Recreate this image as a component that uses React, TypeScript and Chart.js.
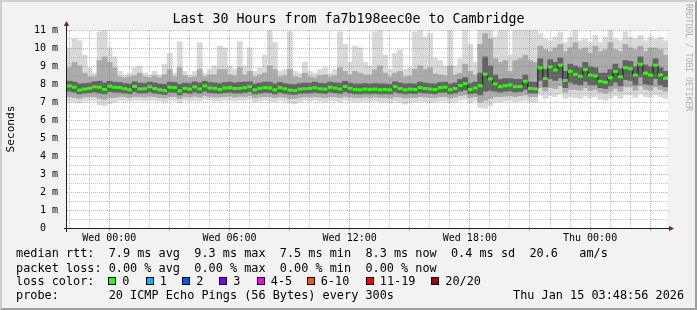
import React, { useEffect, useRef } from 'react';
import { Chart, registerables } from 'chart.js';

Chart.register(...registerables);

// ---------- data ----------
const TITLE = 'Last 30 Hours from fa7b198eec0e to Cambridge';
const START_CLOCK_H = 21.89; // graph start, hours since Tue 00:00 (Tue 21:53)
const SPAN_H = 30;
const BUCKET_H = 0.25; // one bucket = 15 minutes
const TICK_CLOCK_H = [24, 30, 36, 42, 48];
const TICK_LABELS = ['Wed 00:00', 'Wed 06:00', 'Wed 12:00', 'Wed 18:00', 'Thu 00:00'];

// median rtt per bucket (ms)
const MEDIAN_MS = [
  7.89, 7.82, 7.66, 7.72, 7.76, 7.84, 7.82, 7.70, 7.88, 7.82,
  7.80, 7.74, 7.68, 7.86, 7.73, 7.74, 7.84, 7.75, 7.68, 7.64,
  7.82, 7.80, 7.62, 7.76, 7.72, 7.84, 7.73, 7.89, 7.78, 7.76,
  7.70, 7.78, 7.80, 7.75, 7.76, 7.80, 7.85, 7.68, 7.76, 7.80,
  7.78, 7.68, 7.80, 7.73, 7.66, 7.64, 7.72, 7.74, 7.76, 7.80,
  7.74, 7.72, 7.82, 7.78, 7.72, 7.86, 7.76, 7.70, 7.68, 7.72,
  7.70, 7.72, 7.68, 7.70, 7.68, 7.85, 7.75, 7.68, 7.72, 7.70,
  7.80, 7.75, 7.72, 7.70, 7.80, 7.82, 7.68, 7.75, 7.92, 8.02,
  7.70, 7.78, 7.90, 8.55, 8.28, 8.00, 7.85, 7.90, 7.95, 7.85,
  7.86, 8.15, 7.75, 7.73, 8.90, 8.30, 8.95, 8.78, 9.05, 8.20,
  8.70, 8.54, 8.43, 8.80, 8.50, 8.45, 8.15, 8.10, 8.35, 8.70,
  8.40, 8.90, 8.85, 8.50, 9.10, 8.60, 8.50, 9.05, 8.50, 8.32,
];
// slowest ping per bucket (ms)
const MAX_MS = [
  10.0, 10.5, 10.4, 9.6, 8.9, 8.6, 10.9, 11.0, 10.0, 9.5,
  8.7, 8.5, 8.6, 8.9, 9.0, 8.6, 8.5, 8.7, 8.5, 9.1,
  9.7, 8.6, 10.35, 8.7, 8.5, 8.7, 10.3, 8.6, 8.8, 9.0,
  10.1, 10.0, 9.0, 8.8, 10.35, 9.0, 10.0, 8.7, 8.9, 9.6,
  11.2, 10.3, 8.7, 8.8, 10.9, 8.7, 8.6, 9.2, 8.7, 8.6,
  8.8, 8.9, 8.6, 8.8, 10.9, 10.2, 9.2, 10.1, 10.0, 9.2,
  9.0, 10.9, 11.2, 9.6, 8.8, 9.7, 9.9, 8.8, 8.9, 10.9,
  11.2, 10.6, 10.8, 9.45, 9.3, 9.0, 11.2, 9.0, 9.4, 11.2,
  10.2, 9.2, 11.3, 11.3, 11.3, 10.6, 11.2, 11.2, 9.6, 11.2,
  11.2, 11.2, 11.2, 11.2, 10.8, 10.5, 10.4, 10.6, 10.9, 10.3,
  10.6, 11.2, 10.4, 10.5, 10.3, 10.7, 10.3, 10.6, 11.2, 10.5,
  10.4, 10.9, 10.6, 10.5, 10.7, 10.4, 10.6, 10.5, 10.6, 10.4,
];
// upper edge of the middle smoke band (ms)
const UP_MS = [
  8.9, 9.2, 9.0, 8.6, 8.4, 8.4, 9.3, 9.5, 9.2, 8.9,
  8.4, 8.35, 8.4, 8.45, 8.6, 8.4, 8.35, 8.45, 8.35, 8.5,
  8.8, 8.4, 8.9, 8.45, 8.35, 8.4, 8.8, 8.4, 8.5, 8.5,
  8.8, 8.8, 8.5, 8.45, 8.9, 8.5, 8.7, 8.4, 8.5, 8.6,
  9.0, 8.8, 8.4, 8.45, 8.8, 8.4, 8.35, 8.6, 8.4, 8.35,
  8.45, 8.5, 8.4, 8.45, 8.9, 8.7, 8.5, 8.7, 8.6, 8.5,
  8.5, 8.8, 9.0, 8.6, 8.4, 8.6, 8.7, 8.4, 8.45, 8.8,
  9.0, 8.8, 8.9, 8.55, 8.5, 8.45, 9.0, 8.5, 8.6, 9.1,
  8.7, 8.5, 10.2, 10.8, 10.5, 9.4, 9.2, 9.3, 8.7, 9.3,
  9.4, 9.6, 9.3, 9.2, 10.1, 9.9, 9.8, 10.0, 10.2, 9.8,
  10.0, 10.3, 9.9, 10.0, 9.7, 10.1, 9.8, 9.9, 10.3, 9.9,
  9.8, 10.2, 10.0, 9.9, 10.1, 9.8, 10.0, 10.0, 9.9, 9.6,
];
// upper edge of the dark core (ms)
const CORE_HI_MS = [
  8.15, 8.10, 8.00, 8.02, 8.05, 8.12, 8.15, 8.05, 8.15, 8.10,
  8.08, 8.02, 8.00, 8.12, 8.05, 8.02, 8.10, 8.05, 8.00, 7.98,
  8.10, 8.08, 7.98, 8.05, 8.02, 8.12, 8.05, 8.15, 8.08, 8.05,
  8.02, 8.08, 8.10, 8.05, 8.08, 8.10, 8.12, 8.00, 8.05, 8.10,
  8.10, 8.00, 8.08, 8.02, 7.98, 7.96, 8.02, 8.05, 8.05, 8.10,
  8.04, 8.02, 8.10, 8.06, 8.04, 8.15, 8.05, 8.00, 8.00, 8.02,
  8.00, 8.02, 8.00, 8.00, 7.98, 8.12, 8.05, 8.00, 8.02, 8.00,
  8.10, 8.05, 8.02, 8.00, 8.08, 8.10, 8.00, 8.05, 8.25, 8.35,
  8.02, 8.10, 8.60, 9.50, 9.00, 8.50, 8.25, 8.30, 8.30, 8.25,
  8.25, 8.50, 8.10, 8.10, 9.40, 8.80, 9.35, 9.20, 9.45, 8.70,
  9.10, 9.00, 8.90, 9.20, 8.95, 8.90, 8.60, 8.60, 8.80, 9.10,
  8.85, 9.30, 9.25, 8.95, 9.50, 9.05, 8.95, 9.40, 8.90, 8.70,
];
// lower edge of the dark core (ms)
const CORE_LO_MS = [
  7.60, 7.55, 7.45, 7.50, 7.52, 7.56, 7.50, 7.45, 7.58, 7.55,
  7.54, 7.50, 7.46, 7.58, 7.50, 7.50, 7.56, 7.50, 7.46, 7.42,
  7.55, 7.54, 7.40, 7.52, 7.48, 7.56, 7.50, 7.60, 7.52, 7.50,
  7.48, 7.52, 7.54, 7.50, 7.50, 7.54, 7.58, 7.45, 7.50, 7.54,
  7.52, 7.45, 7.54, 7.48, 7.44, 7.42, 7.48, 7.50, 7.50, 7.54,
  7.50, 7.48, 7.55, 7.52, 7.48, 7.58, 7.50, 7.46, 7.45, 7.48,
  7.46, 7.48, 7.45, 7.46, 7.45, 7.56, 7.50, 7.45, 7.48, 7.46,
  7.54, 7.50, 7.48, 7.46, 7.54, 7.55, 7.45, 7.50, 7.60, 7.66,
  7.46, 7.50, 7.40, 7.60, 7.65, 7.60, 7.55, 7.60, 7.62, 7.56,
  7.58, 7.70, 7.50, 7.50, 8.20, 7.85, 8.30, 8.20, 8.35, 7.80,
  8.10, 8.00, 7.95, 8.15, 7.95, 7.95, 7.80, 7.75, 7.90, 8.10,
  7.90, 8.25, 8.20, 7.95, 8.40, 8.00, 7.95, 8.30, 7.95, 7.85,
];
// lower edge of the middle smoke band (ms)
const DN_MS = [
  7.30, 7.25, 7.20, 7.28, 7.30, 7.30, 7.20, 7.15, 7.25, 7.25,
  7.30, 7.30, 7.25, 7.30, 7.30, 7.28, 7.32, 7.30, 7.25, 7.22,
  7.30, 7.30, 7.20, 7.30, 7.28, 7.32, 7.28, 7.35, 7.30, 7.28,
  7.28, 7.30, 7.32, 7.28, 7.30, 7.30, 7.35, 7.25, 7.28, 7.30,
  7.30, 7.25, 7.30, 7.28, 7.20, 7.20, 7.25, 7.30, 7.28, 7.30,
  7.28, 7.25, 7.30, 7.30, 7.25, 7.32, 7.28, 7.25, 7.25, 7.28,
  7.25, 7.28, 7.25, 7.25, 7.22, 7.30, 7.28, 7.22, 7.25, 7.25,
  7.30, 7.28, 7.25, 7.25, 7.30, 7.30, 7.22, 7.28, 7.35, 7.40,
  7.25, 7.30, 7.00, 7.10, 7.20, 7.30, 7.30, 7.32, 7.35, 7.30,
  7.35, 7.40, 7.30, 7.30, 7.80, 7.60, 7.80, 7.75, 7.90, 7.55,
  7.70, 7.70, 7.65, 7.80, 7.65, 7.70, 7.55, 7.50, 7.60, 7.75,
  7.60, 7.85, 7.85, 7.65, 7.90, 7.70, 7.65, 7.85, 7.70, 7.60,
];
// fastest ping per bucket (ms)
const MIN_MS = [
  7.05, 7.00, 6.95, 7.05, 7.10, 7.05, 6.85, 6.80, 6.90, 7.00,
  7.10, 7.10, 7.05, 7.10, 7.10, 7.05, 7.10, 7.10, 7.05, 7.00,
  7.10, 7.08, 6.95, 7.10, 7.05, 7.10, 7.05, 7.15, 7.10, 7.05,
  7.05, 7.10, 7.10, 7.05, 7.10, 7.10, 7.15, 7.00, 7.05, 7.10,
  7.05, 7.00, 7.10, 7.05, 6.95, 6.90, 7.00, 7.10, 7.05, 7.10,
  7.05, 7.00, 7.10, 7.05, 7.00, 7.10, 7.05, 7.00, 7.00, 7.05,
  7.00, 7.05, 7.00, 7.00, 6.95, 7.05, 7.00, 6.90, 7.00, 7.00,
  7.05, 7.00, 6.95, 7.00, 7.05, 7.05, 6.95, 7.00, 7.10, 7.15,
  6.95, 7.05, 6.70, 6.65, 6.80, 7.00, 7.00, 7.05, 7.10, 7.00,
  7.05, 7.10, 7.00, 7.00, 7.40, 7.20, 7.35, 7.30, 7.45, 7.20,
  7.30, 7.25, 7.20, 7.35, 7.25, 7.30, 7.15, 7.10, 7.20, 7.35,
  7.20, 7.40, 7.40, 7.25, 7.45, 7.30, 7.25, 7.40, 7.30, 7.20,
];

const MEDIAN_STATS = ['7.9 ms avg', '9.3 ms max', '7.5 ms min', '8.3 ms now', '0.4 ms sd', '20.6   am/s'];
const LOSS_STATS = ['0.00 % avg', '0.00 % max', '0.00 % min', '0.00 % now'];
const LOSS_LABELS = ['0', '1', '2', '3', '4-5', '6-10', '11-19', '20/20'];
const LOSS_COLORS = ['#26ff00', '#00b8ff', '#0059ff', '#7e00ff', '#ff00ff', '#ff5500', '#ff0000', '#a10000'];
const PROBE_TEXT = '20 ICMP Echo Pings (56 Bytes) every 300s';
const DATE_TEXT = 'Thu Jan 15 03:48:56 2026';
const Y_TITLE = 'Seconds';
const WATERMARK = 'RRDTOOL / TOBI OETIKER';

// ---------- styling ----------
const MONO = "'DejaVu Sans Mono', monospace";
const LOSS_BOX_X = [108, 145.5, 182, 219, 256.5, 306.5, 365.5, 431];

const bucketTimes = MEDIAN_MS.map((_, i) => (i + 0.5) * BUCKET_H);
const band = (lo: number[], hi: number[]) => bucketTimes.map((t, i) => ({ x: t, y: [lo[i], hi[i]] }));
const CONNECTOR_INDEX = 3;

function drawGrid(chart: any) {
  const { ctx, chartArea: a } = chart;
  const xs = chart.scales.x;
  const ys = chart.scales.y;
  ctx.save();
  ctx.lineWidth = 1;
  ctx.setLineDash([1, 1]);
  const minorC = 'rgba(143,143,143,0.5)';
  const majorC = 'rgba(222,79,79,0.5)';
  const hLines: [number, boolean][] = [];
  for (let k = 1; k <= 22; k++) {
    const v = k * 0.5;
    hLines.push([v, k % 2 === 0]);
  }
  for (const pass of [false, true]) {
    ctx.strokeStyle = pass ? majorC : minorC;
    ctx.beginPath();
    for (const [v, major] of hLines) {
      if (major !== pass) continue;
      const py = Math.floor(ys.getPixelForValue(v)) + 0.5;
      ctx.moveTo(a.left, py);
      ctx.lineTo(a.right, py);
    }
    for (let h = Math.ceil(START_CLOCK_H); h <= START_CLOCK_H + SPAN_H; h++) {
      const major = h % 3 === 0;
      if (major !== pass) continue;
      const px = Math.floor(xs.getPixelForValue(h - START_CLOCK_H)) + 0.5;
      ctx.moveTo(px, a.bottom);
      ctx.lineTo(px, a.top);
    }
    ctx.stroke();
  }
  ctx.restore();
}

function drawAxes(chart: any) {
  const { ctx, chartArea: a } = chart;
  const xs = chart.scales.x;
  ctx.save();
  ctx.setLineDash([]);
  // major tick marks under the x axis
  ctx.strokeStyle = 'rgba(222,79,79,0.6)';
  ctx.lineWidth = 1;
  ctx.beginPath();
  for (let h = Math.ceil(START_CLOCK_H); h <= START_CLOCK_H + SPAN_H; h++) {
    if (h % 3 !== 0) continue;
    const px = Math.floor(xs.getPixelForValue(h - START_CLOCK_H)) + 0.5;
    ctx.moveTo(px, a.bottom + 1);
    ctx.lineTo(px, a.bottom + 3);
  }
  ctx.stroke();
  ctx.strokeStyle = '#1f1f1f';
  ctx.beginPath();
  ctx.moveTo(a.left - 3, a.bottom + 0.5);
  ctx.lineTo(a.right + 2, a.bottom + 0.5);
  ctx.moveTo(a.left - 0.5, a.bottom + 4);
  ctx.lineTo(a.left - 0.5, a.top - 4);
  ctx.stroke();
  ctx.fillStyle = '#801f1f';
  ctx.beginPath();
  ctx.moveTo(a.right + 1, a.bottom - 2);
  ctx.lineTo(a.right + 6, a.bottom + 0.5);
  ctx.lineTo(a.right + 1, a.bottom + 3);
  ctx.closePath();
  ctx.fill();
  ctx.beginPath();
  ctx.moveTo(a.left - 3.2, a.top - 4);
  ctx.lineTo(a.left - 0.5, a.top - 9);
  ctx.lineTo(a.left + 2.2, a.top - 4);
  ctx.closePath();
  ctx.fill();
  ctx.restore();
}

const rrdPlugin = {
  id: 'rrdLook',
  beforeDraw(chart: any) {
    const { ctx, chartArea: a } = chart;
    ctx.save();
    ctx.fillStyle = '#ffffff';
    ctx.fillRect(a.left, a.top, a.right - a.left, a.bottom - a.top);
    ctx.restore();
  },
  beforeDatasetDraw(chart: any, args: any) {
    if (args.index === CONNECTOR_INDEX) drawGrid(chart);
  },
  afterDraw(chart: any) {
    drawAxes(chart);
  },
};

const barCommon = {
  type: 'bar' as const,
  borderWidth: 0,
  grouped: false,
  barPercentage: 1,
  categoryPercentage: 1,
  inflateAmount: 0.4,
};

export default function App() {
  const ref = useRef<HTMLCanvasElement>(null);

  useEffect(() => {
    document.body.style.margin = '0';
    const chart = new Chart(ref.current as HTMLCanvasElement, {
      type: 'bar',
      data: {
        datasets: [
          { ...barCommon, label: 'outer', data: band(MIN_MS, MAX_MS), backgroundColor: '#d9d9d9', order: 5 },
          { ...barCommon, label: 'middle', data: band(DN_MS, UP_MS), backgroundColor: '#ababab', order: 4 },
          { ...barCommon, label: 'core', data: band(CORE_LO_MS, CORE_HI_MS), backgroundColor: '#636363', order: 3 },
          {
            type: 'line', label: 'median', order: 2,
            data: bucketTimes.map((t, i) => ({ x: t, y: MEDIAN_MS[i] })),
            stepped: 'middle', borderColor: '#1c1c1c', borderWidth: 1, pointRadius: 0, fill: false,
          },
          {
            type: 'line', label: 'median loss color', order: 1,
            data: bucketTimes.map((t, i) => ({ x: t, y: MEDIAN_MS[i] })),
            showLine: false, pointStyle: 'line', pointRadius: 2.5, pointBorderWidth: 3,
            pointBorderColor: LOSS_COLORS[0], pointBackgroundColor: LOSS_COLORS[0],
          },
        ] as any,
      },
      options: {
        responsive: false,
        animation: false,
        events: [],
        layout: { padding: { top: 30, right: 29, left: 0, bottom: 0 } },
        plugins: { legend: { display: false }, tooltip: { enabled: false }, title: { display: false } },
        scales: {
          x: {
            type: 'linear', min: 0, max: SPAN_H, offset: false,
            grid: { display: false, drawTicks: false },
            border: { display: false },
            afterBuildTicks: (s: any) => { s.ticks = TICK_CLOCK_H.map((h) => ({ value: h - START_CLOCK_H })); },
            afterFit: (s: any) => { s.height = 82; },
            ticks: {
              autoSkip: false, maxRotation: 0, minRotation: 0, padding: 4, color: '#000',
              font: { family: MONO, size: 10 },
              callback: (_v: any, i: number) => TICK_LABELS[i],
            },
          },
          y: {
            type: 'linear', min: 0, max: 11,
            grid: { display: false, drawTicks: false },
            border: { display: false },
            afterFit: (s: any) => { s.width = 67; },
            ticks: {
              stepSize: 1, padding: 9, color: '#000',
              font: { family: MONO, size: 10 },
              callback: (v: any) => (v === 0 ? '0  ' : `${v} m`),
            },
            title: {
              display: true, text: Y_TITLE, color: '#000',
              font: { family: MONO, size: 11.2 },
              padding: { top: 4, bottom: 0 },
            },
          },
        },
      } as any,
      plugins: [rrdPlugin],
    });
    return () => chart.destroy();
  }, []);

  const lineStyle = (top: number): React.CSSProperties => ({
    position: 'absolute', left: 16, top, fontFamily: MONO, fontSize: 11.85, lineHeight: '14px',
    whiteSpace: 'pre', color: '#000',
  });

  return (
    <div style={{ position: 'relative', width: 697, height: 310, background: '#f2f2f2', overflow: 'hidden' }}>
      <canvas ref={ref} width={697} height={310} style={{ position: 'absolute', left: 0, top: 0, display: 'block' }} />
      <div style={{
        position: 'absolute', left: 0, top: 11.4, width: 697, textAlign: 'center', fontFamily: MONO,
        fontSize: 13.3, lineHeight: '16px', whiteSpace: 'pre', color: '#000',
      }}>{TITLE}</div>
      <div style={{
        position: 'absolute', left: 683.5, top: 4, width: 10, fontFamily: MONO, fontSize: 8.1, lineHeight: '10px',
        writingMode: 'vertical-rl', whiteSpace: 'pre', color: '#b0b0b0',
      }}>{WATERMARK}</div>
      <div style={lineStyle(246.2)}>{'median rtt:  ' + MEDIAN_STATS.join('  ')}</div>
      <div style={lineStyle(260.6)}>{'packet loss: ' + LOSS_STATS.join('  ')}</div>
      <div style={lineStyle(273.9)}>{'loss color:'}</div>
      {LOSS_LABELS.map((lab, i) => (
        <React.Fragment key={lab}>
          <div style={{
            position: 'absolute', left: LOSS_BOX_X[i], top: 277, width: 8, height: 8, boxSizing: 'border-box',
            border: '1px solid #000', background: LOSS_COLORS[i],
          }} />
          <div style={{ ...lineStyle(273.9), left: LOSS_BOX_X[i] + 14.3 }}>{lab}</div>
        </React.Fragment>
      ))}
      <div style={lineStyle(288.2)}>{'probe:       ' + PROBE_TEXT}</div>
      <div style={{ ...lineStyle(288.2), left: 513 }}>{DATE_TEXT}</div>
      <div style={{
        position: 'absolute', inset: 0, boxSizing: 'border-box', pointerEvents: 'none',
        borderTop: '2px solid #cfcfcf', borderLeft: '2px solid #cfcfcf',
        borderRight: '2px solid #9e9e9e', borderBottom: '2px solid #9e9e9e',
      }} />
    </div>
  );
}
